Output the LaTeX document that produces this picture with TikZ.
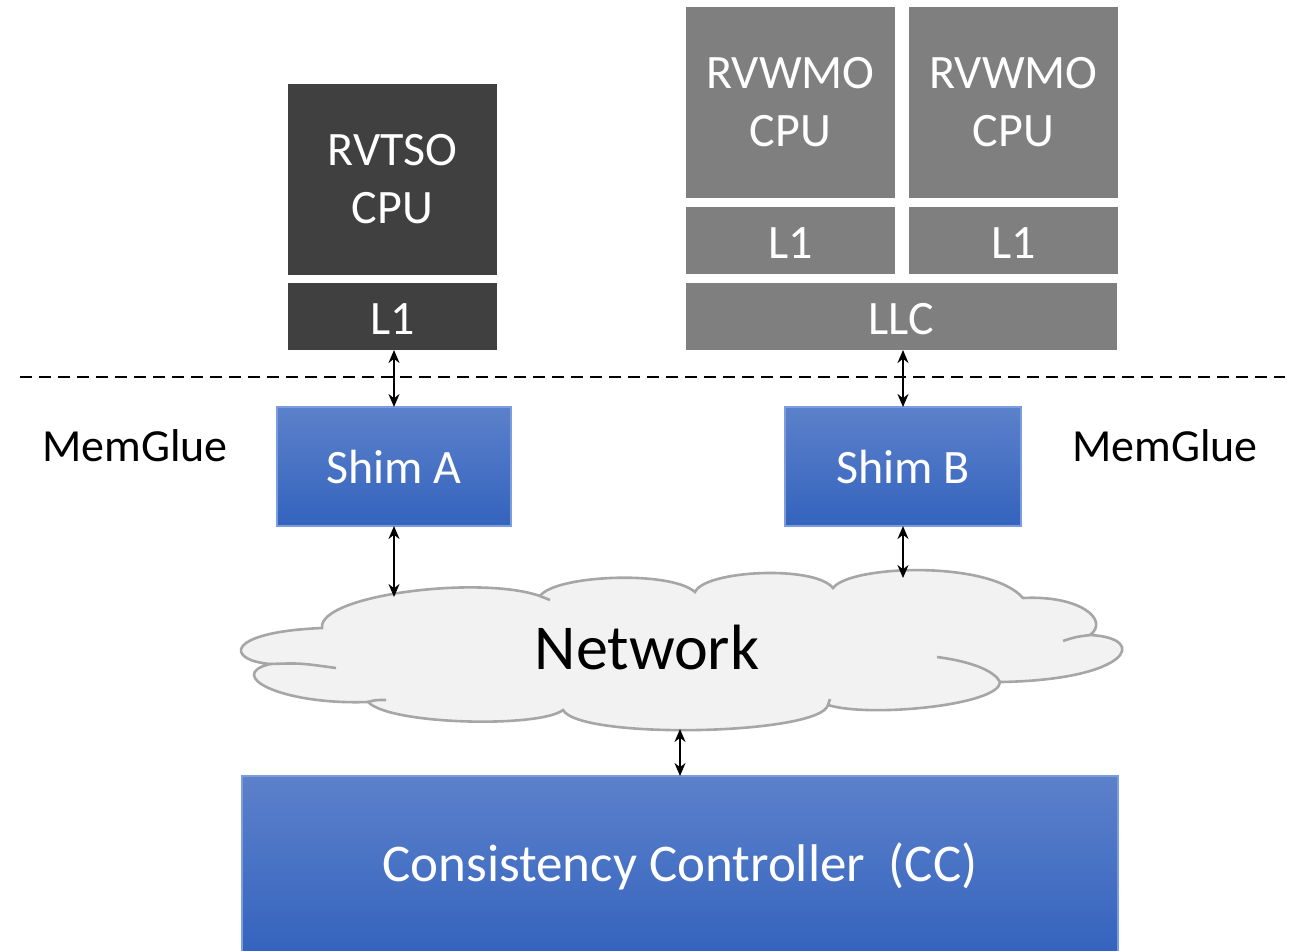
\documentclass[tikz,border=0pt]{standalone}
\usepackage{fontspec}
\setmainfont{Carlito}
\usetikzlibrary{arrows.meta}
\definecolor{darkbox}{HTML}{404040}
\definecolor{greybox}{HTML}{7F7F7F}
\definecolor{bluetop}{HTML}{5C81CB}
\definecolor{bluebot}{HTML}{3463BD}
\definecolor{blueedge}{HTML}{7C9DDD}
\definecolor{cloudfill}{HTML}{F2F2F2}
\definecolor{cloudedge}{HTML}{A6A6A6}
\tikzset{
  blk/.style={inner sep=0pt, outer sep=0pt, text=white, align=center,
    font=\fontsize{48}{58}\selectfont},
  darkblk/.style={blk, fill=darkbox},
  greyblk/.style={blk, fill=greybox},
  oneline/.style={text height=35pt, text depth=0pt},
  blueblk/.style={blk, top color=bluetop, bottom color=bluebot,
    draw=blueedge, line width=1.5pt},
  lbl/.style={font=\fontsize{46}{56}\selectfont, inner sep=0pt},
  link/.style={line width=2pt,
    {Stealth[length=13pt,width=11pt]}-{Stealth[length=13pt,width=11pt]}},
}
\begin{document}
\begin{tikzpicture}[x=1pt,y=-1pt]
\useasboundingbox (0,0) rectangle (1297,950);

% RVTSO core
\node[darkblk, minimum width=209pt, minimum height=191pt] (tsocpu) at (392.5,179.5) {RVTSO\\CPU};
\node[darkblk, oneline, minimum width=209pt, minimum height=67pt] (tsol1) at (392.5,316.5) {L1};

% RVWMO cluster
\node[greyblk, minimum width=209pt, minimum height=191pt] (wmocpua) at (790.5,102.5) {RVWMO\\CPU};
\node[greyblk, minimum width=209pt, minimum height=191pt] (wmocpub) at (1013.5,102.5) {RVWMO\\CPU};
\node[greyblk, oneline, minimum width=209pt, minimum height=67pt] (wmol1a) at (790.5,240.5) {L1};
\node[greyblk, oneline, minimum width=209pt, minimum height=67pt] (wmol1b) at (1013.5,240.5) {L1};
\node[greyblk, oneline, minimum width=431pt, minimum height=67pt] (llc) at (901.5,316.5) {LLC};

% boundary between cores and MemGlue
\coordinate (dashl) at (20,377);
\coordinate (dashr) at (1285,377);
\draw[line width=2.6pt, dash pattern=on 12pt off 7pt] (dashl) -- (dashr);

% shims
\node[blueblk, minimum width=234pt, minimum height=119pt] (shima) at (394,466.5) {Shim A};
\node[blueblk, minimum width=236pt, minimum height=119pt] (shimb) at (903,466.5) {Shim B};
\node[lbl] (mgl) at (135,446) {MemGlue};
\node[lbl] (mgr) at (1165,446) {MemGlue};

% network cloud
\filldraw[fill=cloudfill, draw=cloudedge, line width=2.6pt]
  (270,664) .. controls (225,660) and (225,632) .. (322,628)
  .. controls (318,595) and (480,575) .. (540,596)
  .. controls (555,575) and (670,570) .. (695,592)
  .. controls (705,570) and (815,565) .. (833,588)
  .. controls (850,565) and (990,560) .. (1023,598)
  .. controls (1080,595) and (1110,620) .. (1090,635)
  .. controls (1150,638) and (1130,680) .. (1000,682)
  .. controls (1000,705) and (870,718) .. (828,705)
  .. controls (820,735) and (580,740) .. (563,710)
  .. controls (540,728) and (390,725) .. (368,702)
  .. controls (280,705) and (225,675) .. (270,664) -- cycle;
\draw[cloudedge, line width=2.6pt]
  (1063,641) .. controls (1075,637) .. (1090,635)
  (937,657) .. controls (975,662) and (995,672) .. (1000,682)
  (336,668) .. controls (300,663) .. (270,664)
  (540,596) .. controls (545,598) .. (550,600)
  (828,705) .. controls (829,702) .. (830,699)
  (368,702) .. controls (375,700) .. (386,700);
\node[font=\fontsize{64}{70}\selectfont, inner sep=0pt] (net) at (647,648) {Network};
\coordinate (neta) at (394,597);
\coordinate (netb) at (903,578);
\coordinate (netc) at (680,729);

% consistency controller
\node[blueblk, font=\fontsize{53}{60}\selectfont, minimum width=876pt, minimum height=180pt] (cc) at (680,866) {Consistency Controller\hspace{0.45em}(CC)};

% links
\draw[link] (tsol1.south -| shima.north) -- (shima.north);
\draw[link] (shimb.north |- llc.south) -- (shimb.north);
\draw[link] (shima.south) -- (neta);
\draw[link] (shimb.south) -- (netb);
\draw[link] (netc) -- (cc.north);
\end{tikzpicture}
\end{document}
